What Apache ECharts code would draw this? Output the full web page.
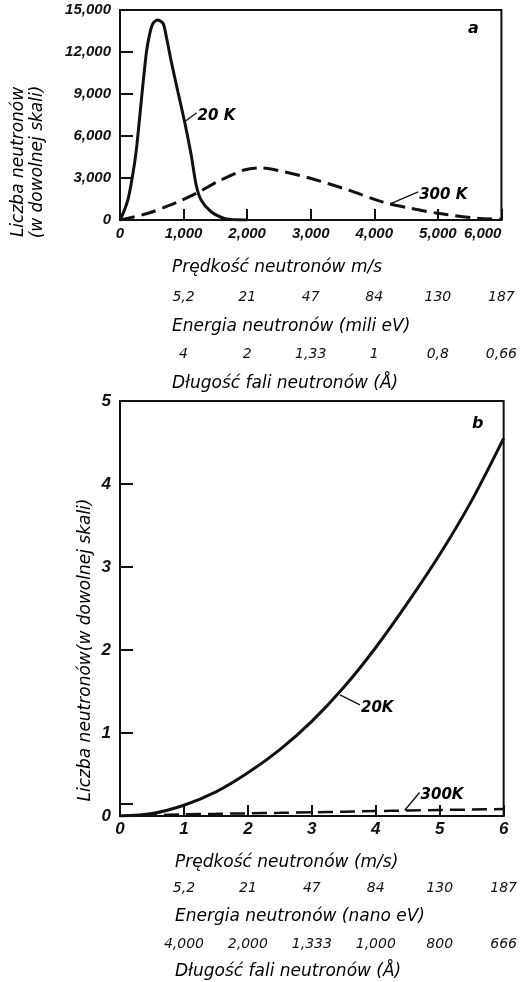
<!DOCTYPE html>
<html>
<head>
<meta charset="utf-8">
<script src="https://cdn.jsdelivr.net/npm/echarts@6/dist/echarts.min.js"></script>
<style>
  html, body { margin: 0; padding: 0; background: #fff; }
  #chart { width: 520px; height: 982px; }
</style>
</head>
<body>
<div id="chart"></div>
<script>
// ---- (a) velocity distribution, 0-6000 m/s ----
const speedA20K = [0, 60, 130, 208, 260, 313, 365, 417, 469, 521, 589, 677, 729, 807, 911, 1016, 1120, 1198, 1276, 1432, 1641, 1849, 2000];
const countA20K = [0, 600, 1550, 3450, 5120, 7500, 9880, 12020, 13330, 14050, 14290, 14050, 13090, 11310, 9160, 7020, 4640, 2500, 1430, 590, 120, 10, 0];
const speedA300K = [0, 443, 885, 1198, 1563, 1953, 2188, 2396, 2995, 3594, 4115, 4500, 5000, 5625, 6000];
const countA300K = [0, 480, 1250, 1900, 2800, 3570, 3720, 3620, 2980, 2140, 1310, 900, 480, 120, 50];
const energyLabelsA = ['5,2', '21', '47', '84', '130', '187'];
const waveLabelsA = ['4', '2', '1,33', '1', '0,8', '0,66'];

// ---- (b) very slow neutrons, 0-6 m/s ----
const speedB = [0, 0.5, 1, 1.5, 2, 2.5, 3, 3.5, 4, 4.5, 5, 5.5, 6];
const countB20K = [0, 0.03, 0.13, 0.29, 0.52, 0.8, 1.14, 1.55, 2.03, 2.57, 3.15, 3.8, 4.55];
const countB300K = [0, 0.008, 0.02, 0.026, 0.032, 0.038, 0.045, 0.052, 0.06, 0.066, 0.072, 0.078, 0.084];
const energyLabelsB = ['5,2', '21', '47', '84', '130', '187'];
const waveLabelsB = ['4,000', '2,000', '1,333', '1,000', '800', '666'];

const FONT = 'DejaVu Sans';
const NUM_FONT = 'Liberation Sans';
const INK = '#111';

function pairs(xs, ys) { return xs.map((x, i) => [x, ys[i]]); }

const baseText = { fontFamily: FONT, fontStyle: 'italic', color: INK };
const numText = { fontFamily: NUM_FONT, fontStyle: 'italic', fontWeight: 'bold', color: INK };

function mainX(grid, max, interval, labelOpts) {
  return {
    type: 'value', gridIndex: grid, min: 0, max: max, interval: interval,
    axisLine: { show: true, onZero: false, lineStyle: { color: INK, width: 2 } },
    axisTick: { show: true, inside: true, length: 11, lineStyle: { color: INK, width: 2 } },
    splitLine: { show: false },
    axisLabel: Object.assign({}, numText, { showMinLabel: true, showMaxLabel: true }, labelOpts)
  };
}

function rowX(grid, max, interval, offset, labels) {
  return {
    type: 'value', gridIndex: grid, min: 0, max: max, interval: interval,
    position: 'bottom', offset: offset,
    axisLine: { show: false }, axisTick: { show: false }, splitLine: { show: false },
    axisLabel: Object.assign({}, baseText, {
      fontSize: 14, margin: 7, showMaxLabel: true,
      formatter: v => { const i = Math.round(v / interval) - 1; return i >= 0 ? labels[i] : ''; }
    })
  };
}

function mainY(grid, max, interval, fontSize, tickValues) {
  return {
    type: 'value', gridIndex: grid, min: 0, max: max, interval: interval,
    axisLine: { show: true, lineStyle: { color: INK, width: 2 } },
    axisTick: Object.assign({ show: true, inside: true, length: 13, lineStyle: { color: INK, width: 2 } },
      tickValues ? { customValues: tickValues } : {}),
    splitLine: { show: false },
    axisLabel: Object.assign({}, numText, { fontSize: fontSize, margin: 9, showMaxLabel: true })
  };
}

const chart = echarts.init(document.getElementById('chart'), null, { renderer: 'canvas' });

function label(x, y, text, size, extra) {
  return { type: 'text', x: x, y: y,
    style: Object.assign({}, baseText, { text: text, fontSize: size || 17, verticalAlign: 'middle' }, extra || {}) };
}
function vlabel(x, y, text, size) {
  return { type: 'text', x: x, y: y, rotation: Math.PI / 2,
    style: Object.assign({}, baseText, { text: text, fontSize: size, align: 'center', verticalAlign: 'middle' }) };
}

chart.setOption({
  animation: false,
  backgroundColor: '#fff',
  grid: [
    { left: 120, top: 10, width: 385, height: 210, show: true, borderColor: INK, borderWidth: 2 },
    { left: 120, top: 401, width: 387, height: 415, show: true, borderColor: INK, borderWidth: 2 }
  ],
  xAxis: [
    mainX(0, 6000, 1000, { fontSize: 15, margin: 6, alignMaxLabel: 'right' }),
    rowX(0, 6000, 1000, 63, energyLabelsA),
    rowX(0, 6000, 1000, 120, waveLabelsA),
    mainX(1, 6, 1, { fontSize: 17, margin: 5 }),
    rowX(1, 6, 1, 58, energyLabelsB),
    rowX(1, 6, 1, 114, waveLabelsB)
  ],
  yAxis: [
    mainY(0, 15000, 3000, 15),
    mainY(1, 5, 1, 17, [0, 0.15, 1, 2, 3, 4, 5])
  ],
  series: [
    { type: 'line', xAxisIndex: 0, yAxisIndex: 0, data: pairs(speedA20K, countA20K), smooth: 0.25,
      showSymbol: false, lineStyle: { color: INK, width: 3 } },
    { type: 'line', xAxisIndex: 0, yAxisIndex: 0, data: pairs(speedA300K, countA300K), smooth: 0.3,
      showSymbol: false, lineStyle: { color: INK, width: 3, type: [15, 7] } },
    { type: 'line', xAxisIndex: 3, yAxisIndex: 1, data: pairs(speedB, countB20K), smooth: 0.3,
      showSymbol: false, lineStyle: { color: INK, width: 3 } },
    { type: 'line', xAxisIndex: 3, yAxisIndex: 1, data: pairs(speedB, countB300K), smooth: 0.3,
      showSymbol: false, lineStyle: { color: INK, width: 2.5, type: [15, 7] } }
  ]
});

// Curve annotations: leader from a point on the curve to its temperature label.
function px(grid, pt) { return chart.convertToPixel({ gridIndex: grid }, pt); }
function leader(grid, pt, dx, dy, text) {
  const p = px(grid, pt);
  const q = [p[0] + dx, p[1] + dy];
  return [
    { type: 'line', shape: { x1: p[0], y1: p[1], x2: q[0], y2: q[1] }, style: { stroke: INK, lineWidth: 1.3 } },
    label(q[0] + 1, q[1] + 3, text, 15, { fontWeight: 'bold' })
  ];
}

const graphics = [].concat(
  leader(0, [1016, 7020], 12, -9, '20 K'),
  leader(0, [4250, 1150], 28, -12, '300 K'),
  leader(1, [3.44, 1.46], 20, 10, '20K'),
  leader(1, [4.45, 0.066], 15, -18, '300K'),
  [
    label(468, 29, 'a', 16, { fontWeight: 'bold' }),
    label(472, 424, 'b', 16, { fontWeight: 'bold' }),
    // axis titles, panel (a)
    label(172, 268, 'Prędkość neutronów m/s'),
    label(172, 327, 'Energia neutronów (mili eV)'),
    label(172, 384, 'Długość fali neutronów (Å)'),
    // axis titles, panel (b)
    label(175, 863, 'Prędkość neutronów (m/s)'),
    label(175, 917, 'Energia neutronów (nano eV)'),
    label(175, 972, 'Długość fali neutronów (Å)'),
    // vertical titles
    vlabel(19, 162, 'Liczba neutronów', 17),
    vlabel(38, 162, '(w dowolnej skali)', 17),
    vlabel(86, 650, 'Liczba neutronów(w dowolnej skali)', 17)
  ]
);
chart.setOption({ graphic: graphics });
</script>
</body>
</html>
